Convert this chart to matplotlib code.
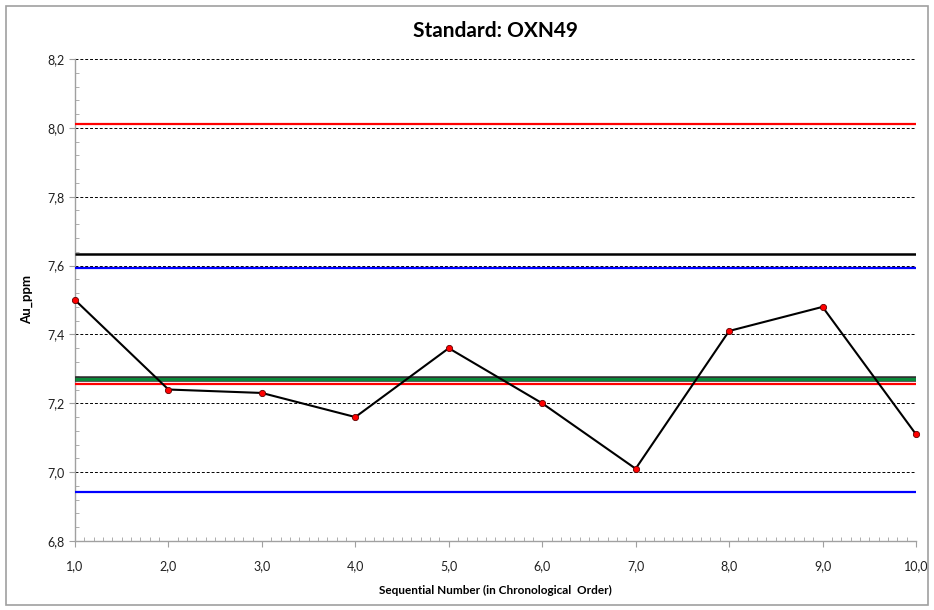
import matplotlib.pyplot as plt
from matplotlib.patches import Rectangle
from matplotlib.ticker import MultipleLocator, FuncFormatter

# sequential measurements of the standard
seq = [1, 2, 3, 4, 5, 6, 7, 8, 9, 10]
au_ppm = [7.50, 7.24, 7.23, 7.16, 7.36, 7.20, 7.01, 7.41, 7.48, 7.11]

# control limits
expected_value = 7.271
mean_value = 7.634
upper_2sd = 7.593
lower_2sd = 6.942
upper_3sd = 8.011
lower_3sd = 7.256

plt.rcParams['font.family'] = ['Lato', 'DejaVu Sans']

fig = plt.figure(figsize=(9.34, 6.10), dpi=100)
ax = fig.add_axes([0.0803, 0.1131, 0.9004, 0.7902])

# outer frame of the chart area
fig.patches.append(Rectangle((0.006, 0.008), 0.988, 0.982, transform=fig.transFigure,
                             fill=False, edgecolor='#a0a0a0', linewidth=1.2))

x0, x1 = seq[0], seq[-1]
ax.hlines(upper_3sd, x0, x1, color='#ff0000', linewidth=1.6, zorder=3)
ax.hlines(mean_value, x0, x1, color='black', linewidth=1.8, zorder=3)
ax.hlines(upper_2sd, x0, x1, color='#0000ff', linewidth=1.6, zorder=3)
ax.hlines(expected_value, x0, x1, color='#303030', linewidth=4.0, zorder=3)
ax.hlines(expected_value, x0, x1, color='#0a8a3a', linewidth=2.2, zorder=3)
ax.hlines(lower_3sd, x0, x1, color='#ff0000', linewidth=1.6, zorder=3)
ax.hlines(lower_2sd, x0, x1, color='#0000ff', linewidth=1.6, zorder=3)

ax.plot(seq, au_ppm, color='black', linewidth=1.5, marker='o', markersize=4.5,
        markerfacecolor='#ff0000', markeredgecolor='#600000', markeredgewidth=0.6,
        zorder=4, clip_on=False)

ax.set_xlim(1, 10)
ax.set_ylim(6.8, 8.2)
ax.xaxis.set_major_locator(MultipleLocator(1))
ax.xaxis.set_minor_locator(MultipleLocator(0.1))
ax.yaxis.set_major_locator(MultipleLocator(0.2))
ax.yaxis.set_minor_locator(MultipleLocator(0.04))
comma = FuncFormatter(lambda v, p: ('%.1f' % v).replace('.', ','))
ax.xaxis.set_major_formatter(comma)
ax.yaxis.set_major_formatter(comma)

ax.yaxis.grid(True, which='major', color='black', linestyle=(0, (3, 2)), linewidth=0.7)
ax.set_axisbelow(True)

for s in ('top', 'right'):
    ax.spines[s].set_visible(False)
for s in ('left', 'bottom'):
    ax.spines[s].set_color('#a0a0a0')
    ax.spines[s].set_linewidth(1.0)

ax.tick_params(axis='both', which='major', direction='out', length=4, color='#a0a0a0',
               labelsize=9, labelcolor='#202020')
ax.tick_params(axis='both', which='minor', direction='in', length=3, color='#a0a0a0')
ax.tick_params(axis='x', which='major', pad=10)

ax.set_title('Standard: OXN49', fontsize=15, fontweight='bold', pad=16)
ax.set_xlabel('Sequential Number (in Chronological  Order)', fontsize=8.5,
              fontweight='bold', labelpad=9)
ax.set_ylabel('Au_ppm', fontsize=9.5, fontweight='bold', labelpad=10)

fig.savefig('out.png', dpi=100)
